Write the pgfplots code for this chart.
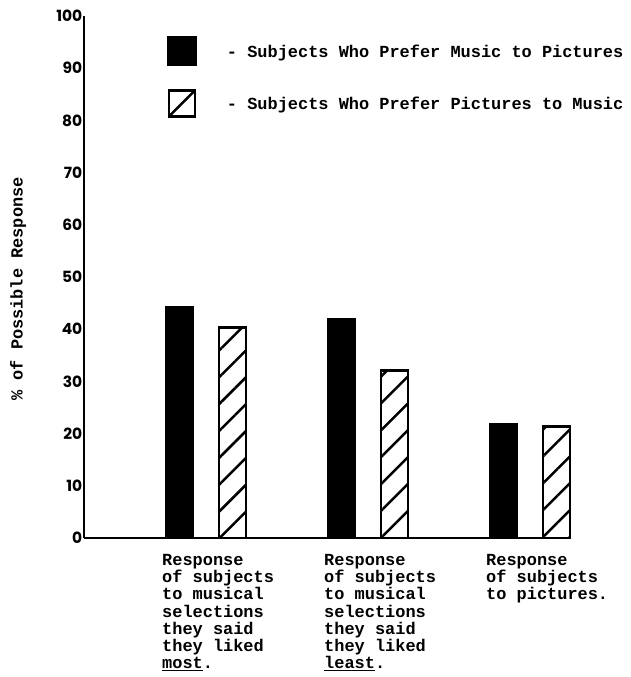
\documentclass[border=0pt]{standalone}
\usepackage{fontspec}
\setmainfont{Liberation Mono}
\newfontfamily\numfont{Poppins}
\usepackage{pgfplots}
\pgfplotsset{compat=1.18}
\usetikzlibrary{patterns.meta}

\begin{document}
\begin{tikzpicture}
\useasboundingbox (-84bp,-139bp) rectangle (547bp,538bp);
\begin{axis}[
  at={(0,0)}, anchor=south west,
  scale only axis, width=487bp, height=522bp,
  xmin=0.247, xmax=3.253, ymin=0, ymax=100,
  clip=false,
  axis x line*=bottom, axis y line*=left,
  axis line style={line width=2.5bp, -},
  ytick={0,10,...,100},
  xtick={1,2,3},
  xticklabels={
    {Response\\of subjects\\to musical\\selections\\they said\\they liked\\\underline{most}.},
    {Response\\of subjects\\to musical\\selections\\they said\\they liked\\\underline{least}.},
    {Response\\of subjects\\to pictures.}},
  major tick length=0pt,
  /pgf/number format/assume math mode=true,
  yticklabel style={font=\numfont\bfseries\fontsize{15.5}{15.5}\selectfont, inner sep=1.5bp},
  xticklabel style={font=\bfseries\fontsize{17}{17.3}\selectfont, align=left, anchor=north west, inner sep=0pt, xshift=-44bp, yshift=-16bp},
  ylabel={\% of Possible Response},
  ylabel style={font=\bfseries\fontsize{17}{17}\selectfont, at={(axis description cs:-0.1355,0.477)}, anchor=center},
  legend cell align=left,
  legend style={draw=none, fill=none, at={(axis description cs:0.170,0.962)}, anchor=north west,
    inner sep=0pt, row sep=23bp, column sep=30bp,
    nodes={inner sep=0pt},
    font=\bfseries\fontsize{17}{17}\selectfont},
]
\addplot[ybar, bar width=0.167, bar shift=-0.1636, fill=black, draw=black, line width=2bp,
  legend image code/.code={\fill[black] (0bp,-13bp) rectangle (28bp,15bp);}]
  coordinates {(1,44.3) (2,41.9) (3,21.8)};
\addplot[ybar, bar width=0.167, bar shift=0.1636, draw=black, line width=2.5bp,
  pattern={Lines[angle=45,distance=19bp,line width=2.5bp]}, pattern color=black,
  legend image code/.code={\draw[black, fill=white, line width=2.5bp] (1bp,-12bp) rectangle (27bp,14bp);
    \draw[black, line width=2.5bp] (1bp,-12bp) -- (27bp,14bp);}]
  coordinates {(1,40.3) (2,32.1) (3,21.4)};
\legend{- Subjects Who Prefer Music to Pictures, - Subjects Who Prefer Pictures to Music}
\end{axis}
\end{tikzpicture}
\end{document}
